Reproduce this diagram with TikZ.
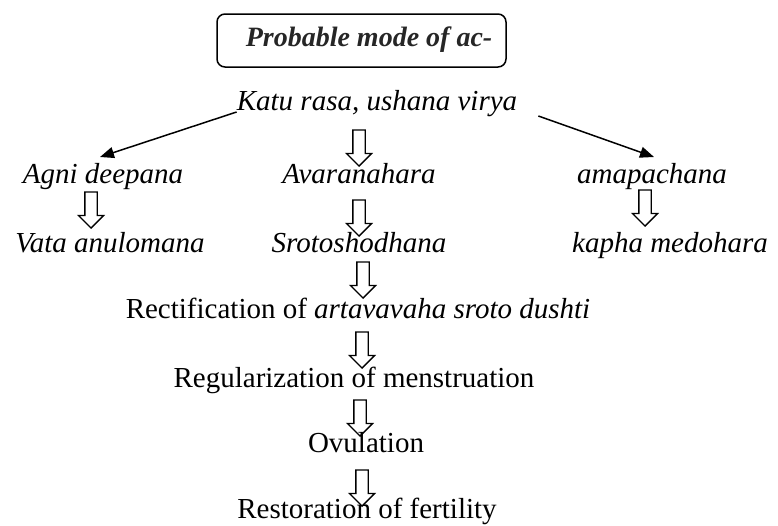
\documentclass[tikz,border=0pt]{standalone}
\usepackage{fontspec}
\setmainfont{Liberation Serif}
\usetikzlibrary{shapes.arrows,arrows.meta}

\tikzset{
  txt/.style={anchor=base,inner sep=0pt,font=\fontsize{29}{33}\selectfont},
  titlebox/.style={draw,rounded corners=8pt,line width=1.5pt,minimum width=289pt,minimum height=53pt},
  titletxt/.style={inner sep=0pt,font=\bfseries\itshape\fontsize{28}{32}\selectfont,text=black!85},
  blockarrow/.style={shape=single arrow,draw,line width=1.3pt,inner sep=5.5pt,minimum width=24pt,
    single arrow head extend=6.5pt,minimum height=36pt,shape border rotate=270},
  thinarrow/.style={line width=1.5pt,-{Triangle[length=14pt,width=11pt]}}
}

\begin{document}
\begin{tikzpicture}[x=1pt,y=-1pt]
   \useasboundingbox (0,0) rectangle (778,525);

   \node[titlebox] (title) at (361.5,40.5) {};
   \node[titletxt] (titletext) at (369,40) {Probable mode of ac-};

   \node[txt] (katu) at (377,110) {\itshape Katu rasa, ushana virya};

   \node[txt] (agni) at (103,183) {\itshape Agni deepana};
   \node[txt] (avar) at (359,183) {\itshape Avaranahara};
   \node[txt] (ama) at (652,183) {\itshape amapachana};

   \node[txt] (vata) at (110,252) {\itshape Vata anulomana};
   \node[txt] (sroto) at (359,252) {\itshape Srotoshodhana};
   \node[txt] (kapha) at (670,252) {\itshape kapha medohara};

   \node[txt] (rect) at (358,318) {Rectification of \itshape artavavaha sroto dushti};
   \node[txt] (regul) at (354,387) {Regularization of menstruation};
   \node[txt] (ovul) at (366,452) {Ovulation};
   \node[txt] (resto) at (367,518) {Restoration of fertility};

   % katu rasa branches
   \draw[thinarrow] ([yshift=-2pt]katu.base west) -- (100,157);
   \draw[thinarrow] ([xshift=21pt,yshift=-6pt]katu.base east) -- (654,157);

   % block arrows
   \node[blockarrow] (a1) at (359,145) {};
   \node[blockarrow] (a2) at (91,207) {};
   \node[blockarrow] (a3) at (359,215) {};
   \node[blockarrow] (a4) at (645,205) {};
   \node[blockarrow] (a5) at (363,277) {};
   \node[blockarrow] (a6) at (362,347) {};
   \node[blockarrow] (a7) at (360,415) {};
   \node[blockarrow] (a8) at (362,485) {};

\end{tikzpicture}
\end{document}
